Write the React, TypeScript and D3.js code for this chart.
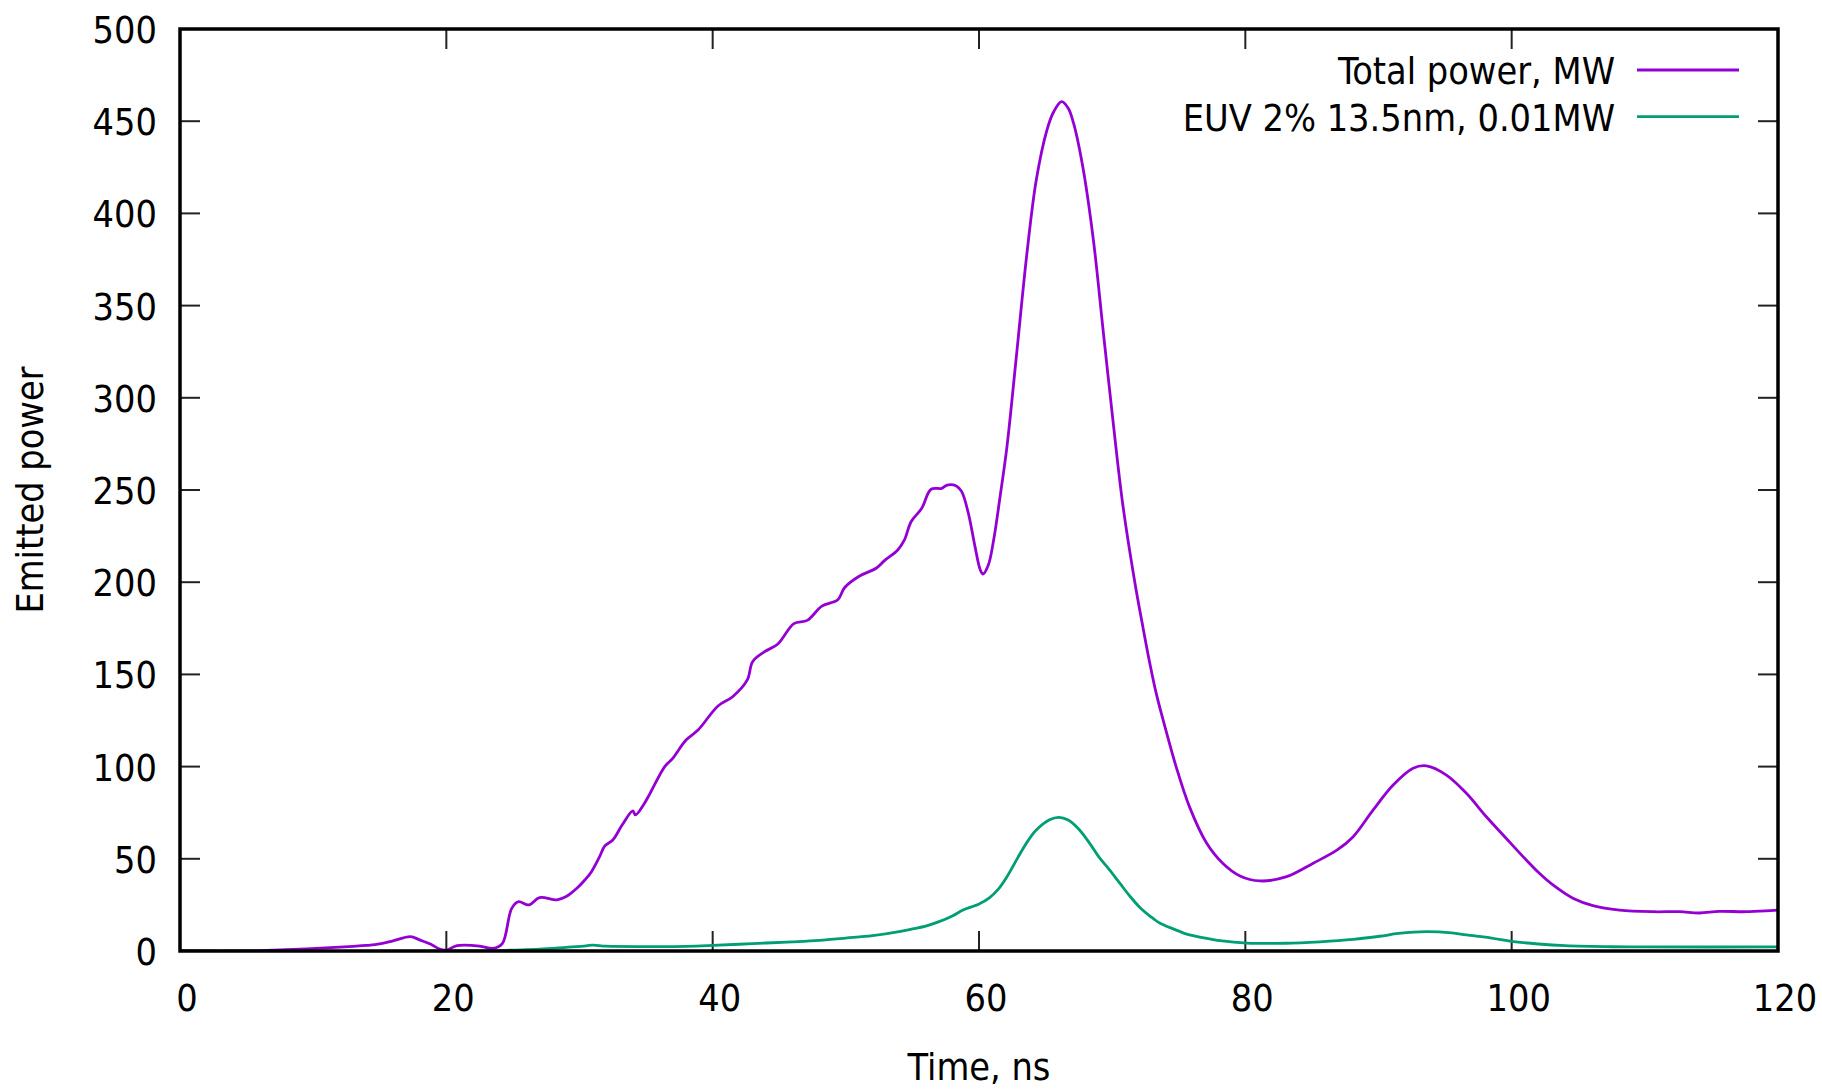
import React from "react";
import * as d3 from "d3";

const totalT = [0, 5, 6.5, 9, 11.3, 13, 14, 15, 16, 17.3, 18, 18.8, 19.5, 20, 20.8, 22.5, 23.5, 24.2, 24.9, 25.4, 26.2, 27, 28.3, 29, 29.8, 30.4, 30.9, 31.5, 31.9, 32.5, 33.2, 34, 34.2, 34.8, 35.3, 36.4, 37, 38, 38.9, 40.4, 41.5, 42.6, 43, 43.9, 44.9, 46.1, 47.1, 48.2, 49.4, 49.9, 51, 52.3, 52.9, 53.9, 54.4, 54.9, 55.7, 56.4, 57.2, 57.6, 58.3, 58.7, 59.2, 59.7, 60.1, 60.3, 60.7, 61.1, 61.6, 62.1, 62.8, 63.6, 64.3, 65.1, 65.6, 66.2, 66.7, 67.1, 67.8, 68.6, 69.3, 70.1, 70.8, 71.7, 72.3, 72.8, 73.3, 74.1, 74.8, 75.8, 77.1, 78.3, 79.6, 81.1, 83.1, 85.1, 86.9, 88.1, 89.6, 91.1, 92.6, 93.6, 95.1, 96.6, 98.1, 99.6, 101.1, 102.1, 103.1, 104.6, 106.1, 108.1, 110.6, 112.6, 114.1, 115.6, 117.6, 120];
const totalV = [0, 0, 0.3, 1, 1.8, 2.5, 3, 3.8, 5.5, 7.8, 6, 3.8, 1, 0.5, 2.9, 2.7, 1.4, 4, 23, 26.7, 25, 29, 27.7, 29.5, 34, 38.5, 43, 51, 57, 60.2, 68.3, 76, 73.8, 79.2, 85.5, 100, 104.5, 114.4, 119.8, 132.9, 137.9, 147, 156.9, 162.3, 166.5, 177.5, 179.3, 187, 190.5, 197, 203.2, 207.7, 211.7, 217.5, 222.9, 232.8, 240.1, 250.4, 250.9, 252.7, 252.2, 249.1, 237.4, 219.3, 206.6, 204.4, 209.3, 222.9, 247.3, 273.5, 322, 378.4, 418.1, 445.2, 455, 460.6, 457, 448.9, 425, 385, 338, 285, 242, 200, 176, 157, 140, 118, 100, 78.3, 58.4, 47.6, 40.7, 38, 40.3, 47.6, 54.8, 62, 76.5, 90, 99.1, 100.4, 95.4, 85.5, 72.8, 61, 49.3, 42, 35.8, 28.6, 24.6, 22.2, 21.3, 21.3, 20.6, 21.5, 21.3, 22.2];

const euvT = [0, 23, 25, 27, 29, 30.5, 31, 32, 35, 38, 40, 43, 46, 48, 50, 52, 54, 55, 56, 57, 58, 58.8, 60, 60.8, 61.5, 62.1, 63.1, 63.7, 64.3, 65.3, 66.0, 66.7, 67.5, 68.3, 69.0, 69.8, 70.6, 71.3, 72.1, 73.1, 73.6, 75.1, 75.6, 77.6, 78.1, 80.1, 83, 85.6, 88.1, 90.1, 91.5, 93.6, 95.5, 96.6, 98.5, 100, 102, 104, 107.6, 110, 120];
const euvV = [0, 0, 0.5, 1, 2, 2.8, 3.2, 2.6, 2.4, 2.5, 3, 4, 5, 5.8, 7, 8.3, 10.5, 12, 13.5, 15.9, 19, 22.2, 25.5, 29, 34, 40.3, 53, 60, 65.6, 71.2, 72.5, 71, 66, 58.5, 51, 44, 36.5, 30, 23.5, 17.5, 15, 10.5, 9.2, 6.2, 5.6, 4.3, 4.2, 5, 6.3, 8, 9.5, 10.5, 9.8, 8.7, 7, 5.2, 3.8, 2.9, 2.3, 2.2, 2.2];

const xTicks = [0, 20, 40, 60, 80, 100, 120];
const yTicks = [0, 50, 100, 150, 200, 250, 300, 350, 400, 450, 500];
const seriesNames = ["Total power, MW", "EUV 2% 13.5nm, 0.01MW"];
const seriesColors = ["#9400d3", "#009e73"];
const xTitle = "Time, ns";
const yTitle = "Emitted power";

const W = 1822;
const H = 1089;
const L = 180, R = 1778, T = 29, B = 951;
const FONT = "'DejaVu Sans Condensed', 'DejaVu Sans', sans-serif";
const FS = 37.5;

export default function App() {
  const x = d3.scaleLinear().domain([0, 120]).range([L, R]);
  const y = d3.scaleLinear().domain([0, 500]).range([B, T]);
  const line = d3
    .line<[number, number]>()
    .x((d) => x(d[0]))
    .y((d) => y(Math.max(0, d[1])))
    .curve(d3.curveCatmullRom.alpha(0.5));
  const totalData = totalT.map((t, i) => [t, totalV[i]] as [number, number]);
  const euvData = euvT.map((t, i) => [t, euvV[i]] as [number, number]);
  const tickLen = 20;
  const textStyle: React.CSSProperties = { fontFamily: FONT, fontStretch: "condensed" };

  return (
    <svg
      width={W}
      height={H}
      style={{ position: "absolute", left: 0, top: 0, background: "#fff", display: "block" }}
    >
      <rect x={0} y={0} width={W} height={H} fill="#fff" />
      <defs>
        <clipPath id="plotclip">
          <rect x={L} y={T} width={R - L} height={B - T} />
        </clipPath>
      </defs>
      {xTicks.map((t) => (
        <g key={"xt" + t}>
          <line x1={x(t)} x2={x(t)} y1={B} y2={B - tickLen} stroke="#222" strokeWidth={2} />
          <line x1={x(t)} x2={x(t)} y1={T} y2={T + tickLen} stroke="#222" strokeWidth={2} />
          <text x={x(t) + 7} y={1011} textAnchor="middle" fontSize={FS} style={textStyle} fill="#000">
            {t}
          </text>
        </g>
      ))}
      {yTicks.map((v) => (
        <g key={"yt" + v}>
          <line x1={L} x2={L + tickLen} y1={y(v)} y2={y(v)} stroke="#222" strokeWidth={2} />
          <line x1={R} x2={R - tickLen} y1={y(v)} y2={y(v)} stroke="#222" strokeWidth={2} />
          <text x={157} y={y(v) + 14} textAnchor="end" fontSize={FS} style={textStyle} fill="#000">
            {v}
          </text>
        </g>
      ))}
      <g clipPath="url(#plotclip)">
        <path d={line(euvData) || ""} fill="none" stroke={seriesColors[1]} strokeWidth={2.8} strokeLinejoin="round" />
        <path d={line(totalData) || ""} fill="none" stroke={seriesColors[0]} strokeWidth={2.8} strokeLinejoin="round" />
      </g>
      <rect x={L} y={T} width={R - L} height={B - T} fill="none" stroke="#000" strokeWidth={3.5} />
      {seriesNames.map((name, i) => {
        const ly = 70 + i * 46.7;
        return (
          <g key={name}>
            <text x={1615} y={ly + 14} textAnchor="end" fontSize={FS} style={textStyle} fill="#000">
              {name}
            </text>
            <line x1={1637} x2={1739} y1={ly} y2={ly} stroke={seriesColors[i]} strokeWidth={2.8} />
          </g>
        );
      })}
      <text x={(L + R) / 2} y={1080} textAnchor="middle" fontSize={FS} style={textStyle} fill="#000">
        {xTitle}
      </text>
      <text
        transform={`translate(43, ${(T + B) / 2}) rotate(-90)`}
        textAnchor="middle"
        fontSize={FS}
        style={textStyle}
        fill="#000"
      >
        {yTitle}
      </text>
    </svg>
  );
}
